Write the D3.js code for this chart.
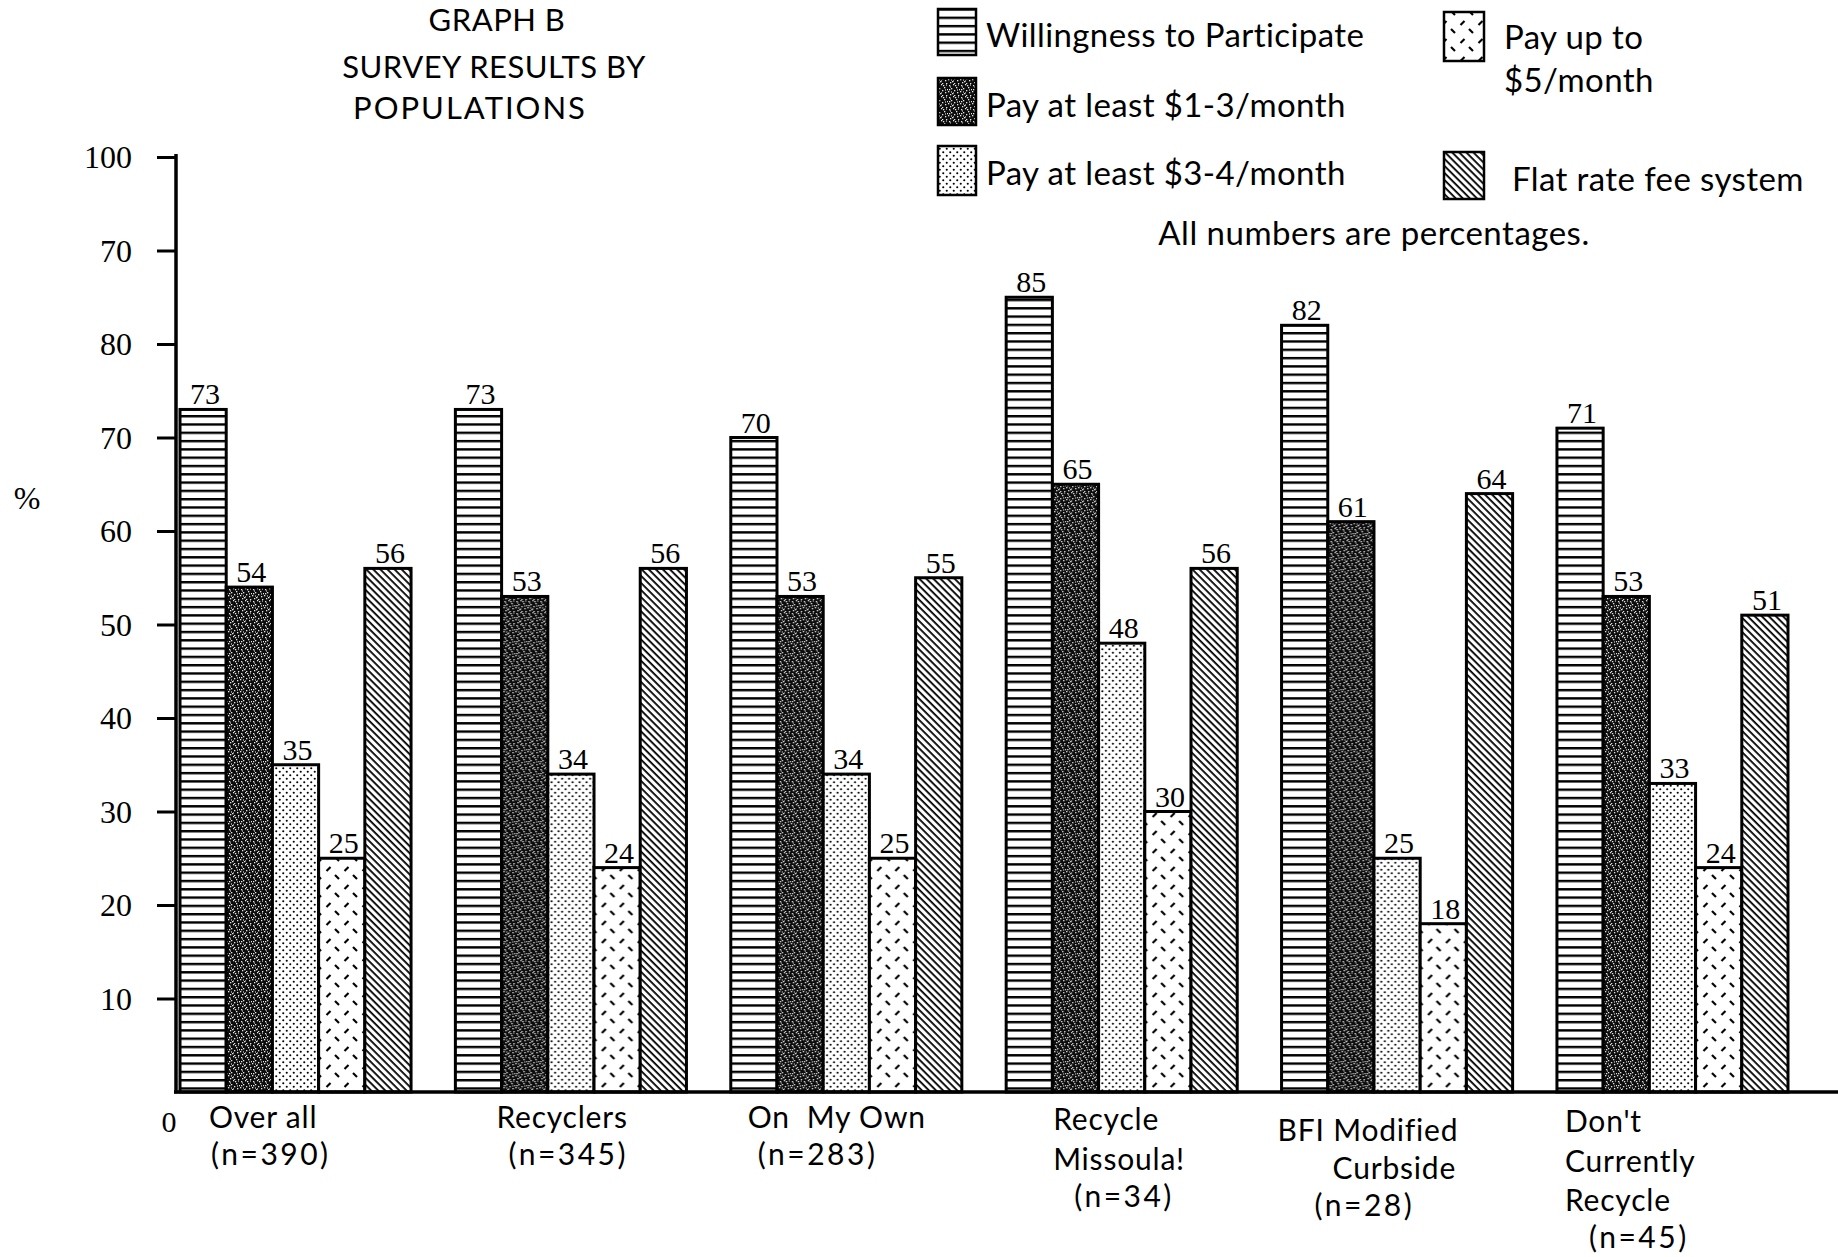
<!DOCTYPE html>
<html>
<head>
<meta charset="utf-8">
<script src="https://cdn.jsdelivr.net/npm/d3@7"></script>
<style>
  html, body { margin: 0; padding: 0; background: #fff; }
  svg { display: block; }
  .sans { font-family: Lato, "Open Sans", sans-serif; fill: #000; }
  .serif { font-family: "Liberation Serif", "DejaVu Serif", serif; fill: #000; }
</style>
</head>
<body>
<div id="chart"></div>
<script>
// Graph B - survey results by populations (grouped bars, hatch patterns)

const categories = ['Over all', 'Recyclers', 'On My Own', 'Recycle Missoula!', 'BFI Modified Curbside', "Don't Currently Recycle"];
const categoryLines = [
    ['Over all', '(n=390)'],
    ['Recyclers', '(n=345)'],
    ['On\u00a0 My Own', '(n=283)'],
    ['Recycle', 'Missoula!', '(n=34)'],
    ['BFI Modified', 'Curbside', '(n=28)'],
    ["Don't", 'Currently', 'Recycle', '(n=45)']
];

const seriesKeys = ['willing', 'pay13', 'pay34', 'pay5', 'flat'];
const seriesNames = ['Willingness to Participate', 'Pay at least $1-3/month', 'Pay at least $3-4/month', 'Pay up to $5/month', 'Flat rate fee system'];

const willing = [73, 73, 70, 85, 82, 71];
const pay13   = [54, 53, 53, 65, 61, 53];
const pay34   = [35, 34, 34, 48, 25, 33];
const pay5    = [25, 24, 25, 30, 18, 24];
const flat    = [56, 56, 55, 56, 64, 51];

// the printed axis reads "70" where 90 should be
const yTickValues = [10, 20, 30, 40, 50, 60, 70, 80, 90, 100];
const yTickLabels = ['10', '20', '30', '40', '50', '60', '70', '80', '70', '100'];

const titleLines = ['GRAPH B', 'SURVEY RESULTS BY', 'POPULATIONS'];
const footNote = 'All numbers are percentages.';

// layout for the hand-placed category captions: [dx from group start, dy below baseline]
const captionLayout = [
    [[29, 36], [31, 73]],
    [[41, 36], [53, 73]],
    [[17, 36], [27, 73]],
    [[47, 38], [47, 78], [68, 115]],
    [[-4, 49], [51, 87], [33, 124]],
    [[8, 40], [8, 80], [8, 119], [32, 156]]
];

const W = 1838, H = 1257;

const svg = d3.select('#chart')
    .append('svg')
    .attr('width', W)
    .attr('height', H);

// ---- patterns ----
const defs = svg.append('defs');

const pHoriz = defs.append('pattern')
    .attr('id', 'p-willing')
    .attr('patternUnits', 'userSpaceOnUse')
    .attr('width', 10).attr('height', 8.3);
pHoriz.append('rect').attr('width', 10).attr('height', 8.3).attr('fill', '#fff');
pHoriz.append('rect').attr('y', 0).attr('width', 10).attr('height', 2.4).attr('fill', '#000');

const pDark = defs.append('pattern')
    .attr('id', 'p-pay13')
    .attr('patternUnits', 'userSpaceOnUse')
    .attr('width', 12).attr('height', 12);
pDark.append('rect').attr('width', 12).attr('height', 12).attr('fill', '#0d0d0d');
[[1, 1], [5, 0], [8, 3], [3, 4], [6, 6], [0, 7], [9, 8], [4, 9], [2, 10], [7, 1],
 [10, 11], [11, 5], [6, 11], [1, 5]].forEach(([x, y]) => {
    pDark.append('rect').attr('x', x).attr('y', y).attr('width', 1.3).attr('height', 1.3).attr('fill', '#e6e6e6');
});
[[2, 2], [9, 5], [5, 8], [10, 0], [3, 7]].forEach(([x, y]) => {
    pDark.append('rect').attr('x', x).attr('y', y).attr('width', 1).attr('height', 2).attr('fill', '#888');
});

const pDots = defs.append('pattern')
    .attr('id', 'p-pay34')
    .attr('patternUnits', 'userSpaceOnUse')
    .attr('width', 7).attr('height', 7);
pDots.append('rect').attr('width', 7).attr('height', 7).attr('fill', '#fff');
pDots.append('circle').attr('cx', 1.75).attr('cy', 1.75).attr('r', 1.05).attr('fill', '#000');
pDots.append('circle').attr('cx', 5.25).attr('cy', 5.25).attr('r', 1.05).attr('fill', '#000');

const pDash = defs.append('pattern')
    .attr('id', 'p-pay5')
    .attr('patternUnits', 'userSpaceOnUse')
    .attr('width', 18).attr('height', 18);
pDash.append('rect').attr('width', 18).attr('height', 18).attr('fill', '#fff');
pDash.append('line').attr('x1', 2.5).attr('y1', 7).attr('x2', 6.5).attr('y2', 3)
    .attr('stroke', '#000').attr('stroke-width', 2.2);
pDash.append('line').attr('x1', 11).attr('y1', 11).attr('x2', 15).attr('y2', 15)
    .attr('stroke', '#000').attr('stroke-width', 2.2);

const pHatch = defs.append('pattern')
    .attr('id', 'p-flat')
    .attr('patternUnits', 'userSpaceOnUse')
    .attr('width', 10).attr('height', 5)
    .attr('patternTransform', 'rotate(45)');
pHatch.append('rect').attr('width', 10).attr('height', 5).attr('fill', '#fff');
pHatch.append('rect').attr('y', 0).attr('width', 10).attr('height', 1.8).attr('fill', '#000');

const fillOf = key => `url(#p-${key})`;

// ---- scales ----
const x0 = d3.scaleBand()
    .domain(categories)
    .range([180, 1788])
    .paddingInner(0.161)
    .paddingOuter(0);

const x1 = d3.scaleBand()
    .domain(seriesKeys)
    .range([0, x0.bandwidth()])
    .padding(0);

const y = d3.scaleLinear()
    .domain([0, 100])
    .range([1092, 157]);

const seriesValues = { willing, pay13, pay34, pay5, flat };
const rows = categories.map((c, i) => ({
    category: c,
    values: seriesKeys.map(k => ({ key: k, value: seriesValues[k][i] }))
}));

// ---- title ----
const titleX = [497, 494, 470];
const titleY = [31, 78, 119];
svg.selectAll('.title')
    .data(titleLines)
    .enter()
    .append('text')
    .attr('class', 'title sans')
    .attr('x', (d, i) => titleX[i])
    .attr('y', (d, i) => titleY[i])
    .attr('text-anchor', 'middle')
    .style('font-size', '31px')
    .style('letter-spacing', (d, i) => i === 2 ? '2px' : '0.5px')
    .text(d => d);

// ---- bars ----
const groups = svg.selectAll('.group')
    .data(rows)
    .enter()
    .append('g')
    .attr('class', 'group')
    .attr('transform', d => `translate(${x0(d.category)},0)`);

groups.selectAll('rect')
    .data(d => d.values)
    .enter()
    .append('rect')
    .attr('x', d => x1(d.key))
    .attr('y', d => y(d.value))
    .attr('width', x1.bandwidth())
    .attr('height', d => y(0) - y(d.value))
    .attr('fill', d => fillOf(d.key))
    .attr('stroke', '#000')
    .attr('stroke-width', 3);

groups.selectAll('.val')
    .data(d => d.values)
    .enter()
    .append('text')
    .attr('class', 'val serif')
    .attr('x', d => x1(d.key) + x1.bandwidth() / 2 + 2)
    .attr('y', d => y(d.value) - 5)
    .attr('text-anchor', 'middle')
    .style('font-size', '30px')
    .text(d => d.value);

// ---- axes ----
const yAxis = svg.append('g')
    .attr('transform', `translate(176,0)`)
    .call(d3.axisLeft(y)
        .tickValues(yTickValues)
        .tickFormat((d, i) => yTickLabels[i])
        .tickSize(19)
        .tickPadding(25));
yAxis.select('.domain').remove();
yAxis.selectAll('.tick line').attr('stroke', '#000').attr('stroke-width', 3);
yAxis.selectAll('.tick text')
    .attr('class', 'serif')
    .style('font-size', '32px')
    .attr('dy', '0.34em');

svg.append('line')
    .attr('x1', 176).attr('x2', 176)
    .attr('y1', y(100) - 3).attr('y2', y(0) + 1.5)
    .attr('stroke', '#000').attr('stroke-width', 3.5);

svg.append('line')
    .attr('x1', 174).attr('x2', W)
    .attr('y1', y(0)).attr('y2', y(0))
    .attr('stroke', '#000').attr('stroke-width', 3.5);

svg.append('text')
    .attr('class', 'serif')
    .attr('x', 169).attr('y', y(0) + 40)
    .attr('text-anchor', 'middle')
    .style('font-size', '30px')
    .text('0');

svg.append('text')
    .attr('class', 'serif')
    .attr('x', 27).attr('y', 509)
    .attr('text-anchor', 'middle')
    .style('font-size', '32px')
    .text('%');

// ---- category captions ----
categoryLines.forEach((lines, ci) => {
    lines.forEach((line, li) => {
        const [dx, dy] = captionLayout[ci][li];
        svg.append('text')
            .attr('class', 'sans')
            .attr('x', x0(categories[ci]) + dx)
            .attr('y', y(0) + dy)
            .style('font-size', '30px')
            .style('letter-spacing', line.startsWith('(') ? '2.5px' : '0.8px')
            .text(line);
    });
});

// ---- legend ----
const legendItems = [
    { key: 'willing', box: [938, 9, 38, 46], text: [seriesNames[0]], tx: 986, ty: [47] },
    { key: 'pay13', box: [938, 78, 38, 47], text: [seriesNames[1]], tx: 986, ty: [117] },
    { key: 'pay34', box: [938, 146, 38, 49], text: [seriesNames[2]], tx: 986, ty: [185] },
    { key: 'pay5', box: [1444, 12, 40, 49], text: ['Pay up to', '$5/month'], tx: 1504, ty: [49, 92] },
    { key: 'flat', box: [1444, 152, 40, 47], text: [seriesNames[4]], tx: 1512, ty: [191] }
];

const legend = svg.append('g').attr('class', 'legend');
legendItems.forEach(item => {
    const [bx, by, bw, bh] = item.box;
    legend.append('rect')
        .attr('x', bx).attr('y', by)
        .attr('width', bw).attr('height', bh)
        .attr('fill', fillOf(item.key))
        .attr('stroke', '#000')
        .attr('stroke-width', 2.5);
    item.text.forEach((t, i) => {
        legend.append('text')
            .attr('class', 'sans')
            .attr('x', item.tx)
            .attr('y', item.ty[i])
            .style('font-size', '33px')
            .style('letter-spacing', '0.4px')
            .text(t);
    });
});

svg.append('text')
    .attr('class', 'sans')
    .attr('x', 1374).attr('y', 245)
    .attr('text-anchor', 'middle')
    .style('font-size', '33px')
    .style('letter-spacing', '0.5px')
    .text(footNote);
</script>
</body>
</html>
